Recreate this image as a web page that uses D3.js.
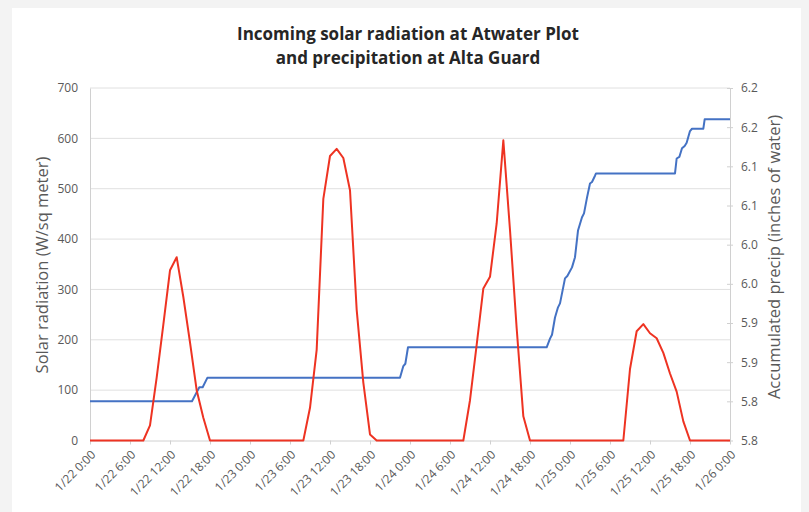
<!DOCTYPE html>
<html>
<head>
<meta charset="utf-8">
<script src="https://cdn.jsdelivr.net/npm/d3@7"></script>
<style>
  html, body { margin: 0; padding: 0; background: #f3f3f3; }
  svg { display: block; }
</style>
</head>
<body>
<svg id="chart" width="809" height="512"></svg>
<script>
// solar: one reading per hour, starting 1/22 0:00
var solar = [
  0, 0, 0, 0, 0, 0, 0, 0, 0, 30, 125, 230, 338, 364, 285, 195, 100, 45, 0, 0, 0, 0, 0, 0,
  0, 0, 0, 0, 0, 0, 0, 0, 0, 65, 180, 480, 565, 579, 561, 497, 260, 115, 12, 0, 0, 0, 0, 0,
  0, 0, 0, 0, 0, 0, 0, 0, 0, 80, 190, 302, 325, 431, 596, 418, 223, 48, 0, 0, 0, 0, 0, 0,
  0, 0, 0, 0, 0, 0, 0, 0, 0, 142, 217, 231, 213, 203, 174, 133, 97, 38, 0, 0, 0, 0, 0, 0,
  0
];
// precip: [hours since 1/22 0:00, accumulated inches] where the record changes
var precip = [
  [0, 5.80], [15.3, 5.80], [16.4, 5.818], [16.9, 5.818], [17.6, 5.83],
  [46.5, 5.83], [47.0, 5.845], [47.3, 5.848], [47.7, 5.869],
  [68.5, 5.869], [69.0, 5.88], [69.3, 5.885], [69.75, 5.907], [70.2, 5.92], [70.5, 5.925],
  [71.25, 5.957], [71.6, 5.96], [72.3, 5.971], [72.75, 5.984], [73.2, 6.018], [73.8, 6.035],
  [74.1, 6.04], [74.55, 6.06], [75.0, 6.078], [75.3, 6.08], [75.75, 6.088], [75.9, 6.091],
  [87.75, 6.091], [88.0, 6.11], [88.4, 6.112], [88.8, 6.123], [89.2, 6.126], [89.5, 6.13],
  [90.0, 6.145], [90.3, 6.148], [92.0, 6.148], [92.2, 6.16], [96, 6.16]
];
var xTickLabels = ['1/22 0:00', '1/22 6:00', '1/22 12:00', '1/22 18:00', '1/23 0:00', '1/23 6:00',
  '1/23 12:00', '1/23 18:00', '1/24 0:00', '1/24 6:00', '1/24 12:00', '1/24 18:00', '1/25 0:00',
  '1/25 6:00', '1/25 12:00', '1/25 18:00', '1/26 0:00'];
var leftTicks = [0, 100, 200, 300, 400, 500, 600, 700];
var rightTicks = [5.75, 5.80, 5.85, 5.90, 5.95, 6.00, 6.05, 6.10, 6.15, 6.20];
var rightTickLabels = ['5.8', '5.8', '5.9', '5.9', '6.0', '6.0', '6.1', '6.1', '6.2', '6.2'];
var titleLines = ['Incoming solar radiation at Atwater Plot', 'and precipitation at Alta Guard'];

var svg = d3.select('#chart');
var font = '"Open Sans", sans-serif';
var grey = '#595959';

svg.append('rect')
  .attr('x', 12).attr('y', 8)
  .attr('width', 789).attr('height', 504)
  .attr('fill', 'white');

var x = d3.scaleLinear().domain([0, 96]).range([90, 730]);
var yL = d3.scaleLinear().domain([0, 700]).range([440.5, 88]);
var yR = d3.scaleLinear().domain([5.75, 6.20]).range([440.5, 88]);

// gridlines
svg.append('g')
  .selectAll('line')
  .data(leftTicks.slice(1))
  .enter()
    .append('line')
    .attr('x1', x(0)).attr('x2', x(96))
    .attr('y1', d => yL(d)).attr('y2', d => yL(d))
    .style('stroke', '#e0e0e0')
    .style('stroke-width', 1);

// left axis
var gL = svg.append('g')
  .attr('transform', 'translate(' + x(0) + ',0)')
  .call(d3.axisLeft(yL).tickValues(leftTicks).tickSize(0).tickPadding(12));
gL.select('.domain').style('stroke', '#d0d0d0');
gL.selectAll('text').style('font-family', font).style('font-size', '12px').style('fill', grey);

// right axis
var gR = svg.append('g')
  .attr('transform', 'translate(' + x(96) + ',0)')
  .call(d3.axisRight(yR).tickValues(rightTicks)
    .tickFormat((d, i) => rightTickLabels[i])
    .tickSizeInner(3).tickSizeOuter(0).tickPadding(8));
gR.select('.domain').style('stroke', '#d0d0d0');
gR.selectAll('.tick line').attr('x1', -3).style('stroke', '#d0d0d0');
gR.selectAll('text').style('font-family', font).style('font-size', '12px').style('fill', grey);

// bottom axis
var gB = svg.append('g')
  .attr('transform', 'translate(0,' + yL(0) + ')')
  .call(d3.axisBottom(x).tickValues(d3.range(0, 97, 6))
    .tickFormat((d, i) => xTickLabels[i])
    .tickSizeInner(4).tickSizeOuter(0));
gB.select('.domain').style('stroke', '#d0d0d0');
gB.selectAll('.tick line').style('stroke', '#d0d0d0');
gB.selectAll('text')
  .style('font-family', font).style('font-size', '12px').style('fill', grey)
  .attr('text-anchor', 'end')
  .attr('dy', '0.35em')
  .attr('transform', 'translate(3,12) rotate(-45)')
  .attr('y', 0).attr('x', 0);

// lines
var lineL = d3.line().x((d, i) => x(i)).y(d => yL(d));
var lineR = d3.line().x(d => x(d[0])).y(d => yR(d[1]));

svg.append('path')
  .datum(precip)
  .attr('d', lineR)
  .style('fill', 'none')
  .style('stroke', '#4472c4')
  .style('stroke-width', 2)
  .style('stroke-linejoin', 'round');

svg.append('path')
  .datum(solar)
  .attr('d', lineL)
  .style('fill', 'none')
  .style('stroke', '#ee3322')
  .style('stroke-width', 2)
  .style('stroke-linejoin', 'round');

// titles
svg.append('g')
  .selectAll('text')
  .data(titleLines)
  .enter()
    .append('text')
    .attr('x', 408)
    .attr('y', (d, i) => 40 + i * 24)
    .attr('text-anchor', 'middle')
    .style('font-family', font)
    .style('font-size', '17px')
    .style('font-weight', 'bold')
    .style('fill', '#262626')
    .text(d => d);

svg.append('text')
  .attr('transform', 'translate(48,265) rotate(-90)')
  .attr('text-anchor', 'middle')
  .style('font-family', font)
  .style('font-size', '16.5px')
  .style('fill', grey)
  .text('Solar radiation (W/sq meter)');

svg.append('text')
  .attr('transform', 'translate(780,257) rotate(-90)')
  .attr('text-anchor', 'middle')
  .style('font-family', font)
  .style('font-size', '16.5px')
  .style('fill', grey)
  .text('Accumulated precip (inches of water)');
</script>
</body>
</html>
